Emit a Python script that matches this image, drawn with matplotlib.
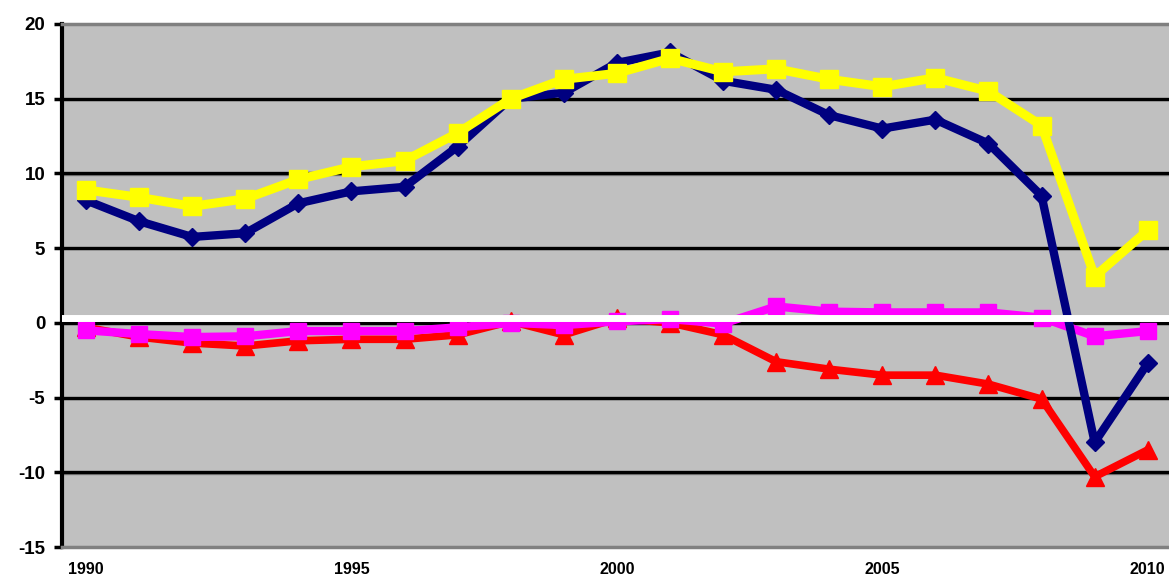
import matplotlib
matplotlib.use("Agg")
import matplotlib.pyplot as plt
import numpy as np

plt.rcParams['font.family'] = ['Liberation Sans', 'DejaVu Sans']
plt.rcParams['font.weight'] = 'bold'

# values
years = np.arange(1990, 2011)
navy_vals = [8.2, 6.8, 5.75, 6.0, 8.0, 8.8, 9.1, 11.8, 15.0, 15.4, 17.4, 18.1, 16.2,
             15.6, 13.9, 13.0, 13.6, 12.0, 8.5, -8.0, -2.7]
yellow_vals = [8.9, 8.4, 7.8, 8.3, 9.6, 10.45, 10.85, 12.7, 15.0, 16.3, 16.7, 17.7, 16.8,
               17.0, 16.3, 15.8, 16.4, 15.5, 13.2, 3.1, 6.2]
red_vals = [-0.3, -0.95, -1.35, -1.55, -1.2, -1.1, -1.1, -0.8, 0.1, -0.8, 0.3, 0.0, -0.8,
            -2.6, -3.1, -3.5, -3.5, -4.1, -5.1, -10.3, -8.5]
magenta_vals = [-0.5, -0.75, -0.95, -0.9, -0.55, -0.55, -0.55, -0.3, 0.0, -0.15, 0.1, 0.25, -0.05,
                1.1, 0.75, 0.7, 0.7, 0.7, 0.35, -0.9, -0.55]

yticks = np.arange(-15, 21, 5)
xticks = [1990, 1995, 2000, 2005, 2010]

fig = plt.figure(figsize=(11.69, 5.78), dpi=100)
ax = fig.add_axes([62 / 1169, 1 - 547 / 578, 1 - 62 / 1169, (547 - 24) / 578])
ax.set_facecolor('#C0C0C0')

# gridlines: black with a thin gray shadow
for yt in yticks[1:-1]:
    ax.axhline(yt - 0.09, color='#808080', lw=1.0, zorder=1)
    ax.axhline(yt, color='black', lw=2.4, zorder=1.5)

ax.plot(years, red_vals, color='#FF0000', lw=5.5, marker='^', ms=13, zorder=3)
ax.plot(years, magenta_vals, color='#FF00FF', lw=6, marker='s', ms=12, zorder=4)
ax.plot(years, navy_vals, color='#000080', lw=6, marker='D', ms=9, zorder=5)
ax.plot(years, yellow_vals, color='#FFFF00', lw=6.5, marker='s', ms=13, zorder=6)

# white reference band just above zero
ax.axhline(0.33, color='white', lw=5, zorder=8)

ax.set_xlim(1989.548, 2010.40)
ax.set_ylim(-15, 20)
ax.set_yticks(yticks)
ax.set_yticklabels([str(v) for v in yticks], fontsize=13.5, fontweight='bold')
ax.set_xticks(xticks)
ax.set_xticklabels([str(v) for v in xticks], fontsize=11.5, fontweight='bold')

ax.tick_params(axis='y', direction='out', length=6, width=2.5, color='black', pad=6)
ax.tick_params(axis='x', length=0, pad=11)

ax.spines['left'].set_color('black')
ax.spines['left'].set_linewidth(3)
ax.spines['top'].set_color('#808080')
ax.spines['top'].set_linewidth(2.5)
ax.spines['bottom'].set_color('#808080')
ax.spines['bottom'].set_linewidth(2.5)
ax.spines['right'].set_visible(False)

fig.savefig('out.png', dpi=100)
